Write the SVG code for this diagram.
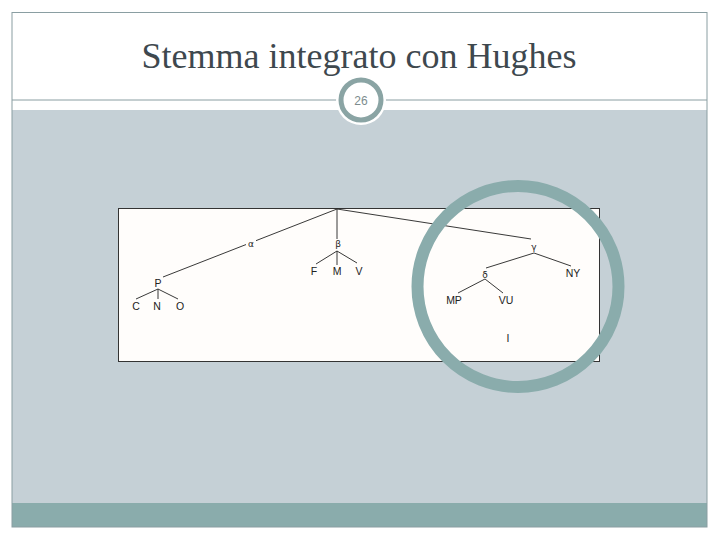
<svg xmlns="http://www.w3.org/2000/svg" width="720" height="540" viewBox="0 0 720 540">
<style>
.lbl{font-family:"Liberation Sans",Arial,sans-serif;font-size:10.5px;fill:#222;text-anchor:middle}
.gr{font-family:"DejaVu Sans","Liberation Sans",sans-serif;font-size:9px;fill:#222;text-anchor:middle}
.edge{stroke:#222;stroke-width:0.9;fill:none}
</style>
<rect x="0" y="0" width="720" height="540" fill="#ffffff"/>
<rect x="12" y="110" width="695" height="393" fill="#c5d0d6"/>
<rect x="12" y="503" width="695" height="24" fill="#8aacac"/>
<rect x="12" y="12.5" width="695" height="514.5" fill="none" stroke="#8a9ea2" stroke-width="1"/>
<line x1="12" y1="100" x2="707" y2="100" stroke="#8a9ea2" stroke-width="1"/>
<text x="359" y="68" font-family="Liberation Serif, 'Times New Roman', serif" font-size="36" fill="#3e484e" text-anchor="middle">Stemma integrato con Hughes</text>
<g id="badge">
<circle cx="361" cy="100" r="25" fill="#ffffff"/>
<circle cx="361" cy="100" r="20" fill="#ffffff" stroke="#8aa4a4" stroke-width="5"/>
<text x="361" y="104.5" font-family="Liberation Sans, Arial, sans-serif" font-size="12" fill="#7c8c8e" text-anchor="middle">26</text>
</g>
<rect id="stemma-frame" x="118.5" y="208.5" width="481" height="153" fill="#fffdfb" stroke="#333" stroke-width="1"/>
<g id="connectors">
<line class="edge" x1="337" y1="209" x2="163" y2="277"/>
<line class="edge" x1="337" y1="209" x2="337" y2="239"/>
<line class="edge" x1="337" y1="209" x2="531" y2="239"/>
<line class="edge" x1="337" y1="251" x2="316" y2="264"/>
<line class="edge" x1="337" y1="251" x2="337" y2="265"/>
<line class="edge" x1="337" y1="251" x2="357" y2="263"/>
<line class="edge" x1="158" y1="289" x2="136" y2="299"/>
<line class="edge" x1="158" y1="289" x2="158" y2="299"/>
<line class="edge" x1="158" y1="289" x2="178" y2="299"/>
<line class="edge" x1="534" y1="253" x2="486" y2="268"/>
<line class="edge" x1="534" y1="253" x2="571" y2="266"/>
<line class="edge" x1="485" y1="279" x2="458" y2="293"/>
<line class="edge" x1="485" y1="279" x2="503" y2="293"/>
</g>
<g id="n-alpha"><rect x="246" y="238" width="10" height="10" fill="#fffdfb"/><text class="gr" x="251" y="247">α</text></g>
<g id="n-beta"><text class="gr" x="338" y="247">β</text></g>
<g id="n-gamma"><text class="gr" x="534" y="250">γ</text></g>
<g id="n-delta"><text class="gr" x="485" y="278">δ</text></g>
<g id="n-P"><text class="lbl" x="158" y="287">P</text></g>
<g id="n-C"><text class="lbl" x="136" y="310">C</text></g>
<g id="n-N"><text class="lbl" x="157" y="310">N</text></g>
<g id="n-O"><text class="lbl" x="180" y="310">O</text></g>
<g id="n-F"><text class="lbl" x="314" y="275">F</text></g>
<g id="n-M"><text class="lbl" x="337" y="275">M</text></g>
<g id="n-V"><text class="lbl" x="359" y="275">V</text></g>
<g id="n-NY"><text class="lbl" x="573" y="277">NY</text></g>
<g id="n-MP"><text class="lbl" x="454" y="304">MP</text></g>
<g id="n-VU"><text class="lbl" x="506" y="304">VU</text></g>
<g id="n-I"><text class="lbl" x="508" y="342">I</text></g>
<circle id="highlight" cx="518" cy="286.5" r="100.5" fill="none" stroke="#8aacac" stroke-width="12"/>
</svg>
